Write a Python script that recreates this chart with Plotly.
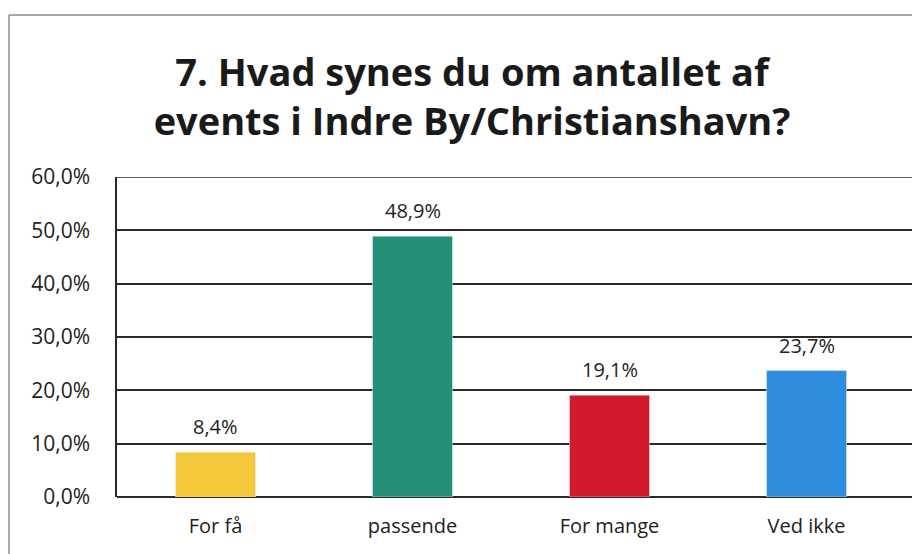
import plotly.graph_objects as go

categories = ["For få", "passende", "For mange", "Ved ikke"]
values = [8.4, 48.9, 19.1, 23.7]
colors = ["#F5C83C", "#24907A", "#D21A2C", "#2E8DDC"]
tick_vals = [0, 10, 20, 30, 40, 50, 60]
tick_text = ["0,0%", "10,0%", "20,0%", "30,0%", "40,0%", "50,0%", "60,0%"]
labels = [f"{v:.1f}%".replace(".", ",") for v in values]

FONT = "Open Sans"
OFF = 8  # page body margin

fig = go.Figure()
fig.add_trace(go.Bar(
    x=list(range(len(categories))), y=values, marker_color=colors, width=0.406,
    cliponaxis=False, hoverinfo="skip",
))

for i, (v, lab) in enumerate(zip(values, labels)):
    fig.add_annotation(x=i, y=v, text=lab, showarrow=False, yanchor="bottom",
                       yshift=10, font=dict(family=FONT, size=20, color="#222"))

W, H = 920 - OFF, 554 - OFF
ml, mr, mt, mb = 117 - OFF, 0, 177 - OFF, 57
pw, ph = W - ml - mr, H - mt - mb

def px(x):
    return (x - OFF - ml) / pw

def py(y):
    return (H - mb - (y - OFF)) / ph

fig.update_layout(
    width=W, height=H,
    margin=dict(l=ml, r=mr, t=mt, b=mb, pad=0),
    paper_bgcolor="white", plot_bgcolor="white",
    showlegend=False,
    font=dict(family=FONT, size=20, color="#222"),
    title=dict(
        text="<b>7. Hvad synes du om antallet af<br>events i Indre By/Christianshavn?</b>",
        x=(472 - OFF) / W, xanchor="center", y=1 - (86 - OFF) / H, yanchor="middle",
        font=dict(family=FONT, size=38, color="#1a1a1a"),
    ),
    xaxis=dict(
        range=[-0.5, -0.5 + pw / 197], tickvals=list(range(len(categories))),
        ticktext=categories, showgrid=False, zeroline=False, showline=False,
        ticks="", ticklabelstandoff=15, fixedrange=True,
    ),
    yaxis=dict(
        range=[0, 60], tickvals=tick_vals, ticktext=tick_text,
        showgrid=True, gridcolor="#2a2a2a", gridwidth=1.5,
        zeroline=True, zerolinecolor="#2a2a2a", zerolinewidth=1.5,
        showline=True, linecolor="#2a2a2a", linewidth=1.5,
        ticks="", ticklabelstandoff=21, fixedrange=True,
        tickfont=dict(size=21),
    ),
    shapes=[
        dict(type="line", xref="paper", yref="y", x0=0, x1=1, y0=tick_vals[-1], y1=tick_vals[-1],
             line=dict(color="#2a2a2a", width=1.5)),
        dict(type="line", xref="paper", yref="paper", x0=px(9), x1=px(920), y0=py(15), y1=py(15),
             line=dict(color="#8a8a8a", width=1.5)),
        dict(type="line", xref="paper", yref="paper", x0=px(9), x1=px(9), y0=py(15), y1=py(554),
             line=dict(color="#8a8a8a", width=1.5)),
    ],
)

fig.write_html("out.html")
